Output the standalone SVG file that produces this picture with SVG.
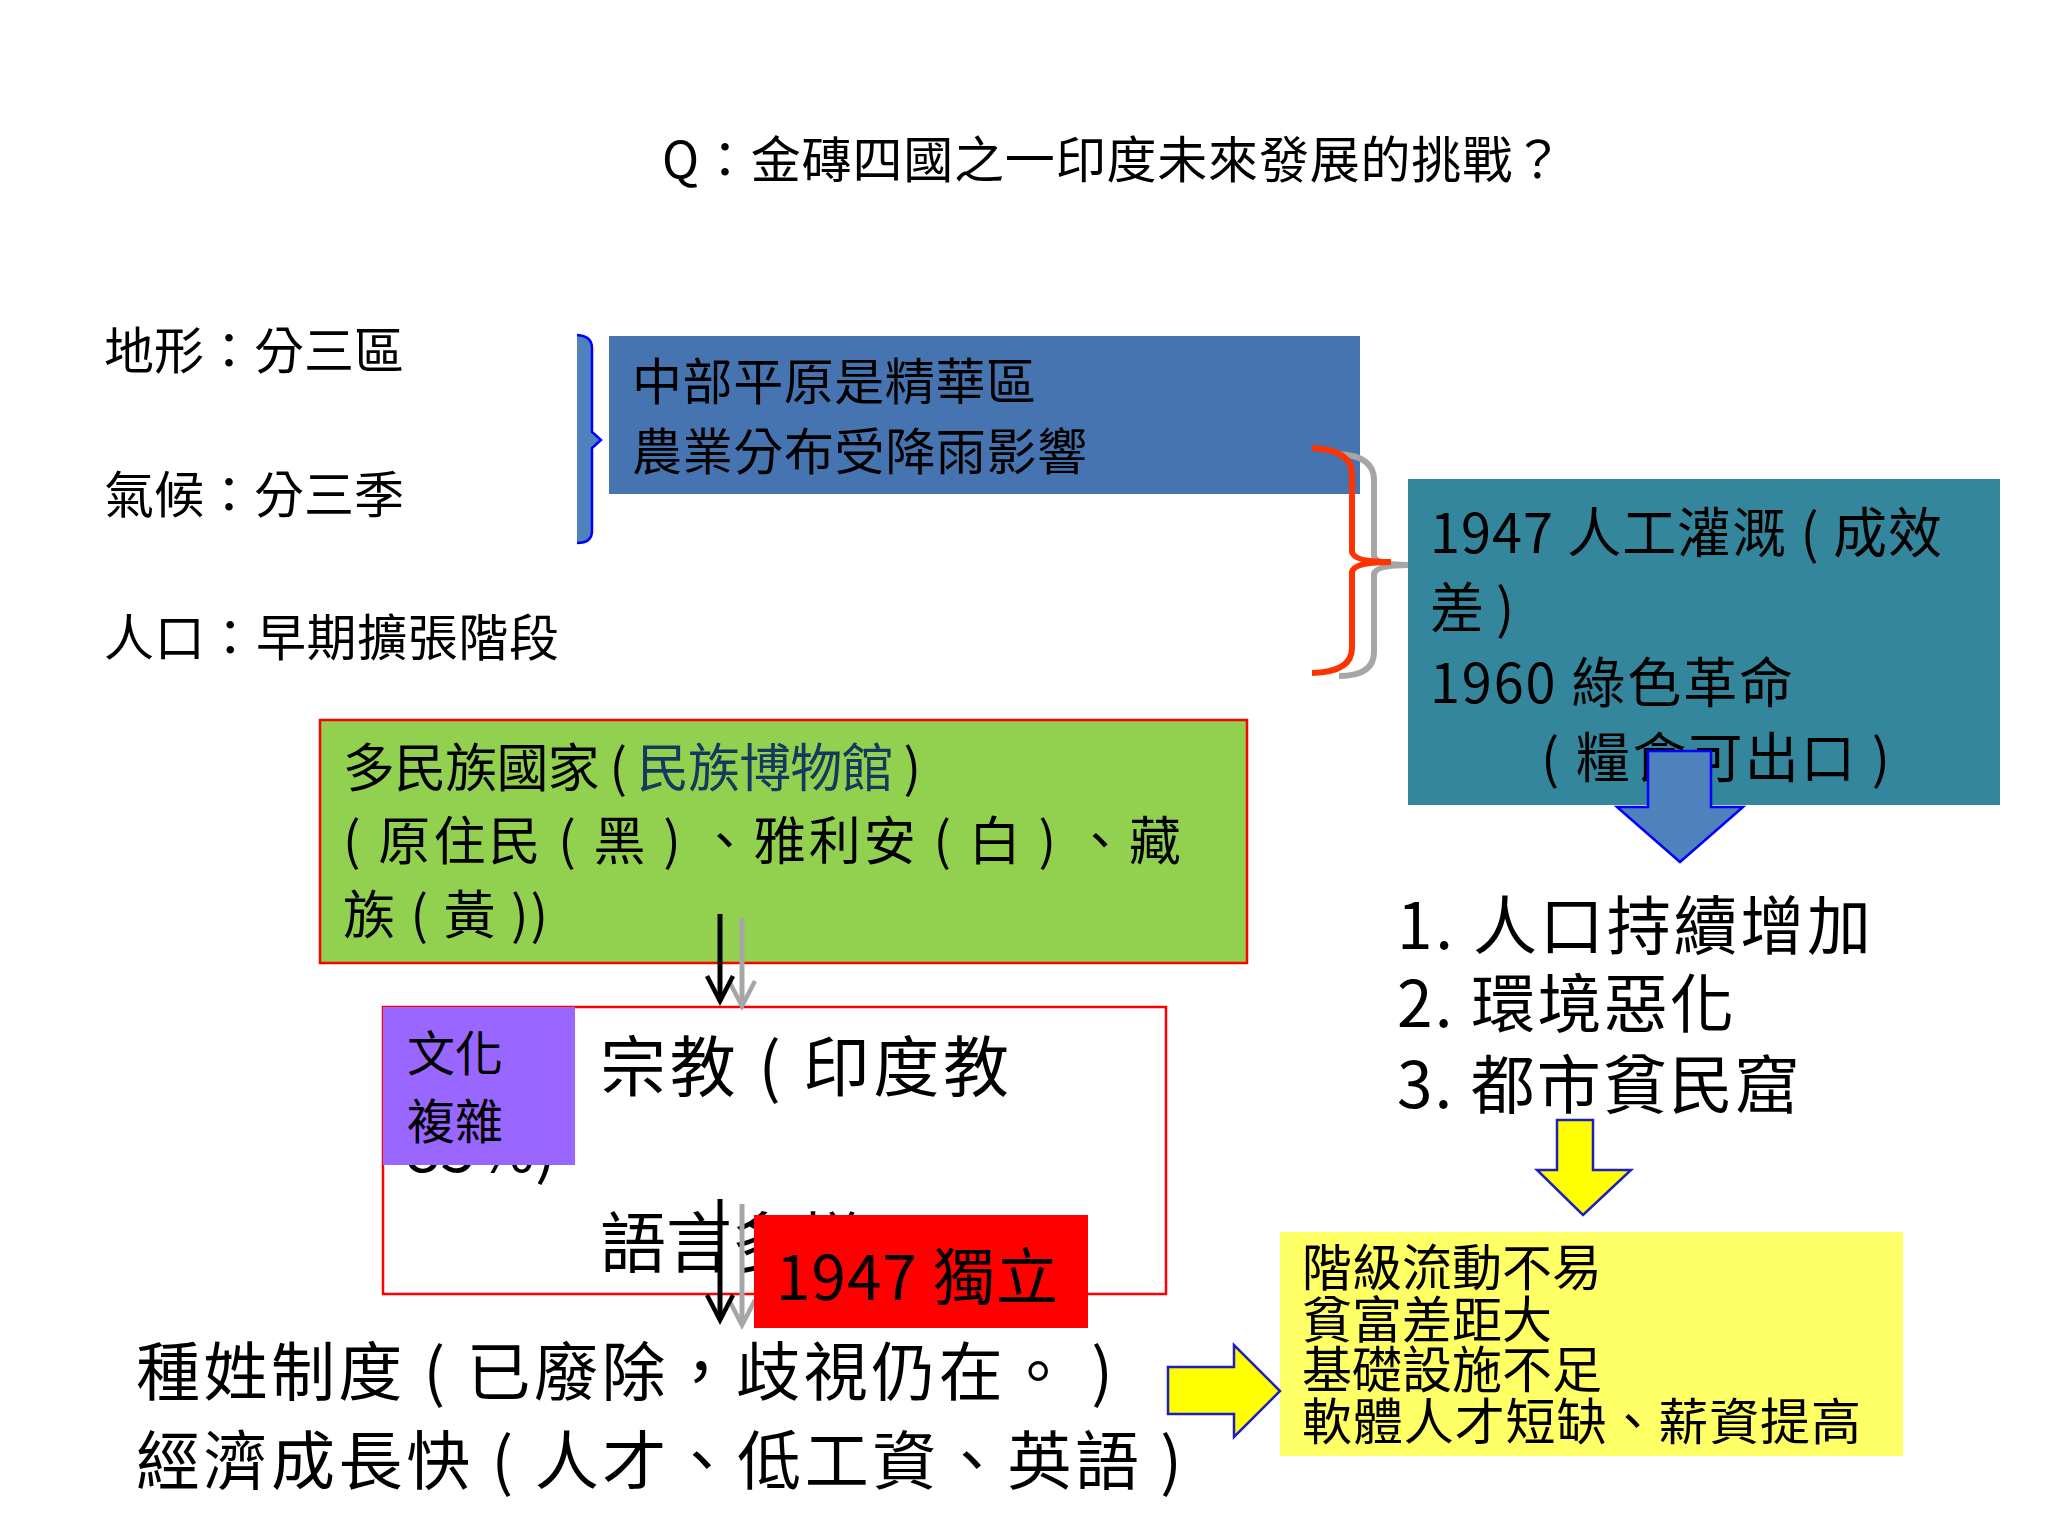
<svg xmlns="http://www.w3.org/2000/svg" width="2048" height="1536" viewBox="0 0 2048 1536">
<defs>
<style>
text{font-family:"Noto Sans CJK TC","Noto Sans CJK SC",sans-serif;fill:#000}
.f50{font-size:50px}.f52{font-size:52px}.f54{font-size:54px}.f64{font-size:64px}.f66{font-size:66px}.f62{font-size:62px}.f48{font-size:48px}
.bk{stroke:#000;stroke-width:5;fill:none}
.gy{stroke:#a6a6a6;stroke-width:5;fill:none}
</style>
<marker id="vb" markerUnits="userSpaceOnUse" markerWidth="34" markerHeight="34" refX="27" refY="17" orient="auto" viewBox="0 0 34 34">
<path d="M2,4 L27,17 L2,30" fill="none" stroke="#000" stroke-width="4.5"/>
</marker>
<marker id="vg" markerUnits="userSpaceOnUse" markerWidth="34" markerHeight="34" refX="27" refY="17" orient="auto" viewBox="0 0 34 34">
<path d="M2,4 L27,17 L2,30" fill="none" stroke="#a6a6a6" stroke-width="4.5"/>
</marker>
</defs>
<rect width="2048" height="1536" fill="#fff"/>

<g id="title"><text class="f50" x="662" y="178" textLength="901">Q：金磚四國之一印度未來發展的挑戰？</text></g>

<g id="left-labels">
<text class="f50" x="104" y="369">地形：分三區</text>
<text class="f50" x="104" y="513">氣候：分三季</text>
<text class="f50" x="104" y="656" textLength="455">人口：早期擴張階段</text>
</g>

<g id="blue-brace">
<path d="M577,335 Q592,336 592,348 L592,432 L601,440 L592,448 L592,531 Q592,543 577,543 Z" fill="#4f81bd"/>
<path d="M577,335 Q592,336 592,348 L592,432 L601,440 L592,448 L592,531 Q592,543 577,543" fill="none" stroke="#0000ff" stroke-width="2.5"/>
</g>

<g id="plain-box">
<rect x="609" y="336" width="751" height="158" fill="#4674b1"/>
<text class="f50" x="632" y="400" textLength="404">中部平原是精華區</text>
<text class="f50" x="632" y="470" textLength="455">農業分布受降雨影響</text>
</g>

<g id="teal-box">
<rect x="1408" y="479" width="592" height="326" fill="#33869c"/>
<text class="f54" x="1430" y="553" textLength="512">1947 人工灌溉 ( 成效</text>
<text class="f54" x="1430" y="628">差 )</text>
<text class="f54" x="1430" y="703" textLength="363">1960  綠色革命</text>
<text class="f54" x="1541" y="778" textLength="349">( 糧食可出口 )</text>
</g>

<g id="braces">
<path d="M1339,454 Q1374,456 1374,480 L1374,556 Q1376,565 1408,565 Q1376,565 1374,574 L1374,652 Q1374,676 1339,676" fill="none" stroke="#a6a6a6" stroke-width="6"/>
<path d="M1312,448 Q1352,450 1352,474 L1352,552 Q1354,562 1391,562 Q1354,562 1352,572 L1352,648 Q1352,672 1312,673" fill="none" stroke="#ff3300" stroke-width="6"/>
</g>

<g id="blue-arrow">
<path d="M1648,751 L1711,751 L1711,807 L1743,807 L1680,862 L1617,807 L1648,807 Z" fill="#4f81bd" stroke="#0000ff" stroke-width="2.5"/>
</g>

<g id="problems">
<text class="f64" x="1397" y="949" textLength="474">1. 人口持續增加</text>
<text class="f64" x="1397" y="1027" textLength="337">2. 環境惡化</text>
<text class="f64" x="1397" y="1108" textLength="402">3. 都市貧民窟</text>
</g>

<g id="yellow-down-arrow">
<path d="M1557,1120 L1593,1120 L1593,1170 L1631,1170 L1583,1215 L1537,1170 L1557,1170 Z" fill="#ffff00" stroke="#1f1fbf" stroke-width="2.5"/>
</g>

<g id="yellow-box">
<rect x="1280" y="1232" width="623" height="224" fill="#ffff66"/>
<text class="f50" x="1302" y="1286">階級流動不易</text>
<text class="f50" x="1302" y="1338">貧富差距大</text>
<text class="f50" x="1302" y="1388">基礎設施不足</text>
<text class="f50" x="1302" y="1440" textLength="559">軟體人才短缺、薪資提高</text>
</g>

<g id="yellow-right-arrow">
<path d="M1168,1367 L1234,1367 L1234,1345 L1280,1391 L1234,1437 L1234,1414 L1168,1414 Z" fill="#ffff00" stroke="#1f1fbf" stroke-width="2.5"/>
</g>

<g id="green-box">
<rect x="320" y="720" width="927" height="243" fill="#92d050" stroke="#ff0000" stroke-width="2.5"/>
<text class="f52" x="343" y="787" textLength="578">多民族國家 ( <tspan fill="#17375e">民族博物館</tspan> )</text>
<text class="f52" x="343" y="860" textLength="838">( 原住民 ( 黑 ) 、雅利安 ( 白 ) 、藏</text>
<text class="f52" x="343" y="934" textLength="205">族 ( 黃 ))</text>
</g>

<g id="culture-box">
<rect x="383" y="1007" width="783" height="287" fill="#fff" stroke="#ff0000" stroke-width="2.5"/>
<text class="f64" x="405" y="1172">85%)</text>
<text class="f66" x="600" y="1091" textLength="409">宗教 ( 印度教</text>
<text class="f66" x="600" y="1267">語言多樣</text>
</g>

<g id="purple-label">
<rect x="383" y="1007" width="192" height="158" fill="#9966ff"/>
<text class="f48" x="407" y="1071">文化</text>
<text class="f48" x="407" y="1139">複雜</text>
</g>

<g id="connectors">
<line class="gy" x1="742" y1="918" x2="742" y2="1006" marker-end="url(#vg)"/>
<line class="bk" x1="720" y1="914" x2="720" y2="1001" marker-end="url(#vb)"/>
<line class="gy" x1="742" y1="1204" x2="742" y2="1325" marker-end="url(#vg)"/>
<line class="bk" x1="720" y1="1199" x2="720" y2="1320" marker-end="url(#vb)"/>
</g>

<g id="independence">
<rect x="754" y="1215" width="334" height="113" fill="#ff0000"/>
<text class="f62" x="776" y="1300" textLength="282">1947 獨立</text>
</g>

<g id="bottom-text">
<text class="f64" x="136" y="1395" textLength="977">種姓制度 ( 已廢除，歧視仍在。 )</text>
<text class="f64" x="136" y="1484" textLength="1046">經濟成長快 ( 人才、低工資、英語 )</text>
</g>
</svg>
